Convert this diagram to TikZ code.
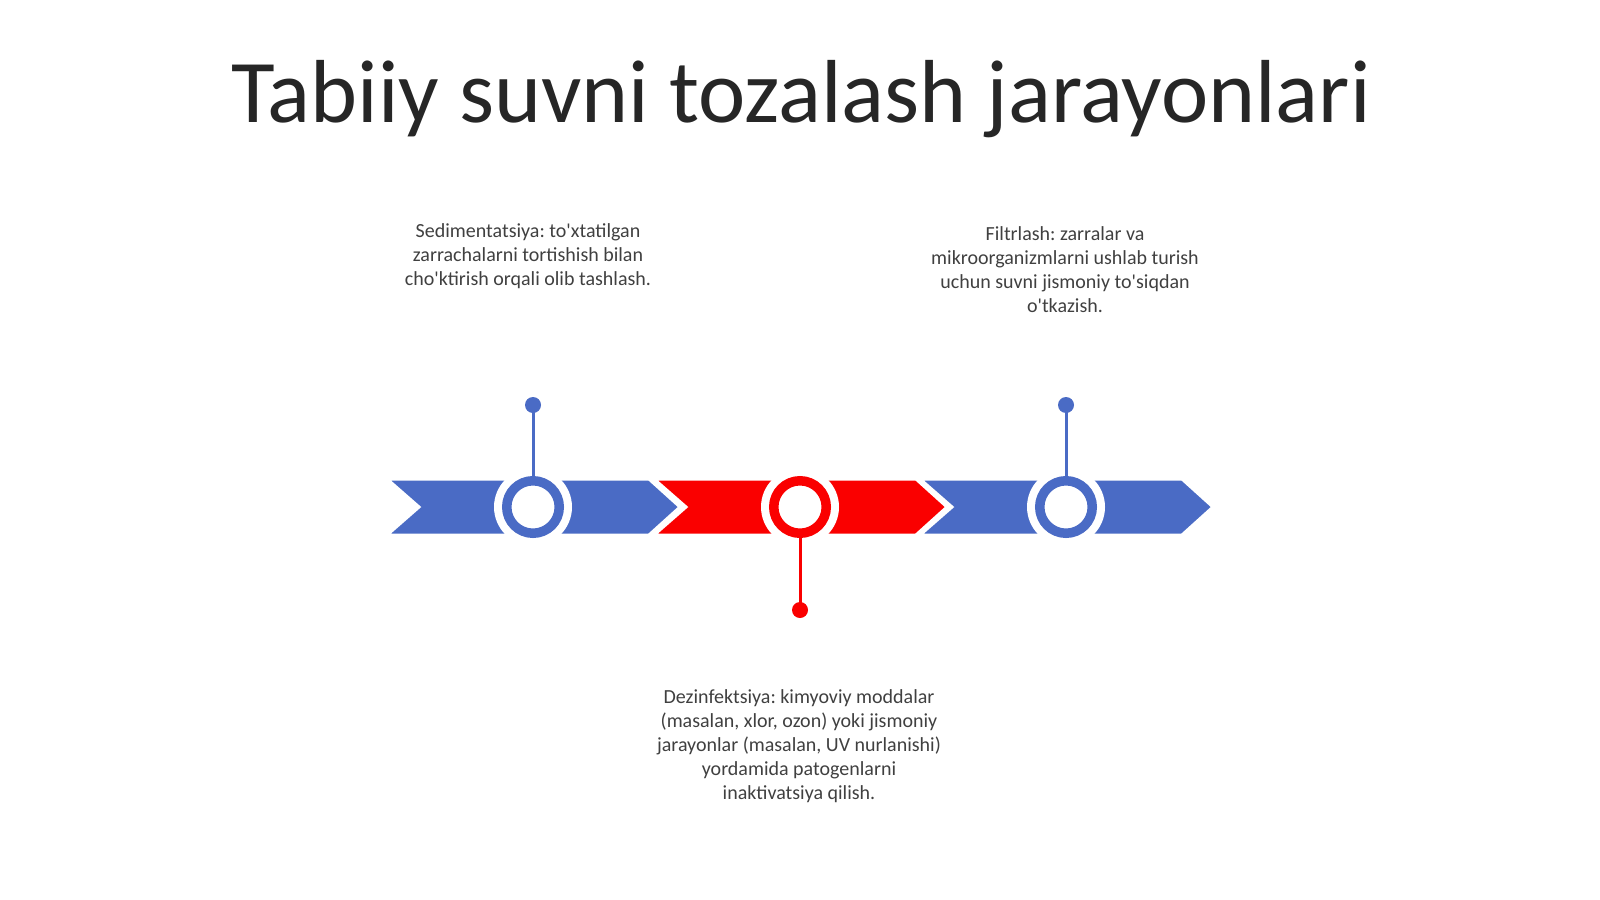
\documentclass[tikz,border=0pt]{standalone}
\usepackage{fontspec}
\setmainfont{Carlito}[Ligatures=TeXOff]
\frenchspacing
\definecolor{cblue}{RGB}{74,107,197}
\definecolor{cred}{RGB}{250,0,0}
\definecolor{ctext}{RGB}{64,64,64}
\definecolor{ctitle}{RGB}{38,38,38}
\tikzset{
  chev/.style={line width=3pt, draw=white, line join=miter},
  halo/.style={circle, fill=white, minimum size=78pt, inner sep=0pt},
  ring/.style={circle, draw=#1, fill=white, line width=9.5pt, minimum size=52.5pt, inner sep=0pt},
  dotn/.style={circle, fill=#1, minimum size=16pt, inner sep=0pt},
  stem/.style={draw=#1, line width=3pt},
  body/.style={align=center, text=ctext, inner sep=0pt, font=\fontsize{20pt}{24pt}\selectfont\frenchspacing},
}
\begin{document}
\begin{tikzpicture}[x=1pt, y=-1pt]
\useasboundingbox (0,0) rectangle (1600,899);
\fill[white] (0,0) rectangle (1600,899);
% title
\node[anchor=base, text=ctitle, inner sep=0pt, font=\fontsize{89.5pt}{100pt}\selectfont] (title) at (801,122.5) {Tabiiy suvni tozalash jarayonlari};
% chevrons
\foreach \c/\col in {533/cblue, 800/cred, 1066/cblue} {
  \fill[\col, chev] (\c-146,479) -- (\c+116,479) -- (\c+147,507) -- (\c+116,535) -- (\c-146,535) -- (\c-114,507) -- cycle;
}
% halos and rings
\node[halo] (h1) at (533,507) {};
\node[halo] (h2) at (800,507) {};
\node[halo] (h3) at (1066,507) {};
\node[ring=cblue] (c1) at (533,507) {};
\node[ring=cred] (c2) at (800,507) {};
\node[ring=cblue] (c3) at (1066,507) {};
% dots
\node[dotn=cblue] (d1) at (533,405) {};
\node[dotn=cred] (d2) at (800,610) {};
\node[dotn=cblue] (d3) at (1066,405) {};
% stems
\draw[stem=cblue] (c1.north) -- (d1.center);
\draw[stem=cred] (c2.south) -- (d2.center);
\draw[stem=cblue] (c3.north) -- (d3.center);
% texts
\node[body, anchor=north] (t1) at (528,223) {Sedimentatsiya: to'xtatilgan\\zarrachalarni tortishish bilan\\cho'ktirish orqali olib tashlash.};
\node[body, anchor=north] (t2) at (1065,226) {Filtrlash: zarralar va\\mikroorganizmlarni ushlab turish\\uchun suvni jismoniy to'siqdan\\o'tkazish.};
\node[body, anchor=north] (t3) at (799,689) {Dezinfektsiya: kimyoviy moddalar\\(masalan, xlor, ozon) yoki jismoniy\\jarayonlar (masalan, UV nurlanishi)\\yordamida patogenlarni\\inaktivatsiya qilish.};
\end{tikzpicture}
\end{document}
